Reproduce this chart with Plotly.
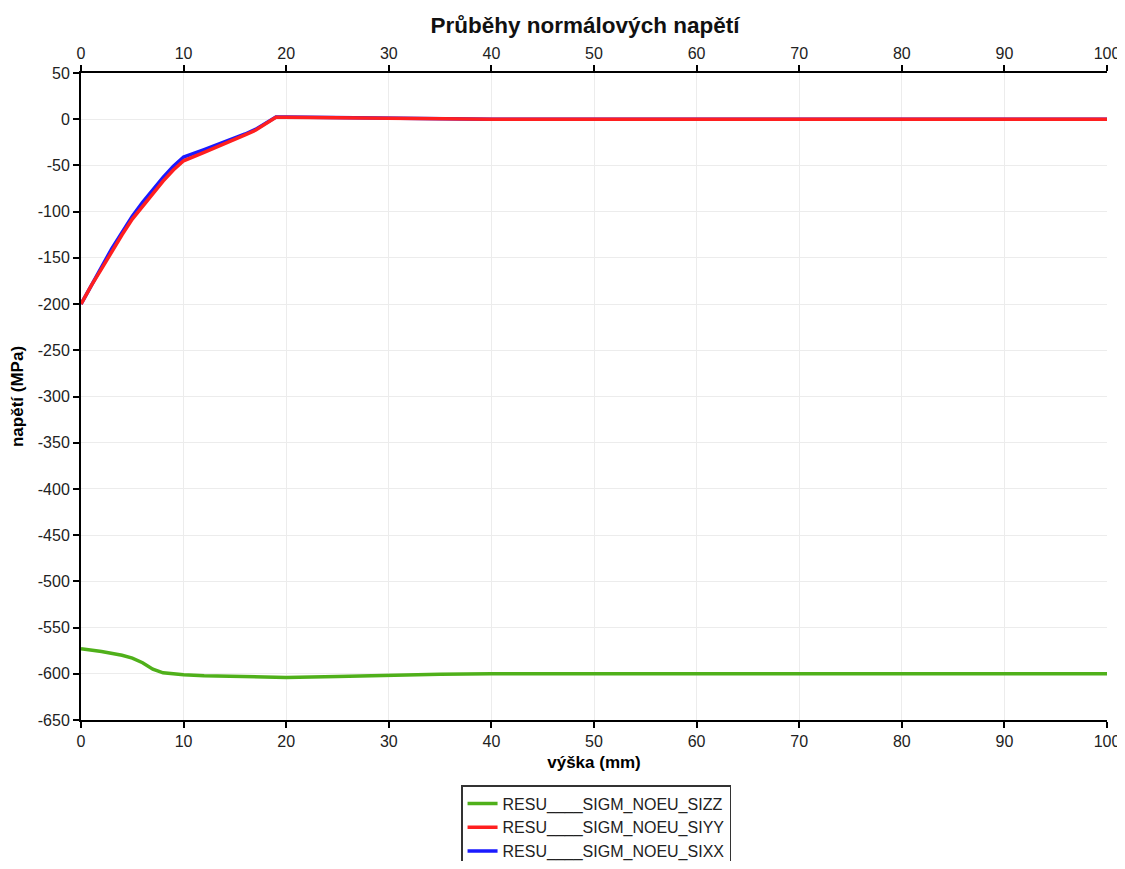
import plotly.graph_objects as go

# Data
x_zz = [0, 2, 4, 5, 6, 7, 8, 10, 12, 15, 18, 20, 25, 30, 35, 40, 50, 60, 70, 80, 90, 100]
sizz = [-573, -576, -580, -583, -588, -595, -599, -601, -602, -603, -604, -604, -603, -601.5, -600.5, -600, -600, -600, -600, -600, -600, -600]

x_xy = [0, 1, 2, 3, 4, 5, 6, 7, 8, 9, 10, 12, 14, 16, 17, 18, 19, 20, 25, 30, 35, 40, 50, 60, 70, 80, 90, 100]
siyy = [-200, -180, -162, -143, -125, -108, -94, -80, -67, -55, -45, -36, -27, -17, -12, -5, 2, 2, 1.5, 1, 0.5, 0, 0, 0, 0, 0, 0, 0]
sixx = [-200, -179, -160, -140, -122, -105, -90, -76, -63, -51, -41, -33, -25, -16, -11, -4, 2.5, 2.5, 1.8, 1, 0.5, 0, 0, 0, 0, 0, 0, 0]

names = ["RESU____SIGM_NOEU_SIZZ", "RESU____SIGM_NOEU_SIYY", "RESU____SIGM_NOEU_SIXX"]
colors = ["#4fb01a", "#ff1f1f", "#1a1aff"]

x_ticks = list(range(0, 101, 10))
y_ticks = list(range(-650, 51, 50))
y_ticktext = [str(v) for v in y_ticks]

fig = go.Figure()
fig.add_trace(go.Scatter(x=x_xy, y=sixx, mode="lines", name=names[2],
                         line=dict(color=colors[2], width=3.5), showlegend=False))
fig.add_trace(go.Scatter(x=x_xy, y=siyy, mode="lines", name=names[1],
                         line=dict(color=colors[1], width=3.5), showlegend=False))
fig.add_trace(go.Scatter(x=x_zz, y=sizz, mode="lines", name=names[0],
                         line=dict(color=colors[0], width=3.5), showlegend=False))
# legend entries in the reference order
for n, c in zip(names, colors):
    fig.add_trace(go.Scatter(x=[None], y=[None], mode="lines", name=n,
                             line=dict(color=c, width=3.5)))
# dummy trace for the top axis
fig.add_trace(go.Scatter(x=[0, 100], y=[None, None], xaxis="x2", mode="lines",
                         showlegend=False, hoverinfo="skip"))

font_family = "Liberation Sans, Arial, sans-serif"

# page body has an 8px default margin, so the figure is smaller
W, H = 1117, 853

fig.update_layout(
    width=W, height=H,
    paper_bgcolor="white", plot_bgcolor="white",
    margin=dict(l=73, r=18, t=65, b=141),
    font=dict(family=font_family, color="#222222"),
    title=dict(text="<b>Průběhy normálových napětí</b>", x=(585 - 8) / W, xanchor="center",
               y=1 - 17 / H, yanchor="middle", font=dict(size=22.5, color="#111111")),
    xaxis=dict(range=[0, 100], tickvals=x_ticks, ticks="outside", ticklen=6, tickwidth=2,
               tickcolor="black", showline=True, linecolor="black", linewidth=2,
               showgrid=True, gridcolor="#ececec", gridwidth=1, zeroline=False,
               automargin=False,
               tickfont=dict(size=16, color="#222222"),
               title=dict(text="<b>výška (mm)</b>", font=dict(size=17, color="black"), standoff=7)),
    xaxis2=dict(range=[0, 100], tickvals=x_ticks, overlaying="x", side="top", matches="x",
                ticks="outside", ticklen=6, tickwidth=2, tickcolor="black",
                showline=True, linecolor="black", linewidth=2, showgrid=False, zeroline=False,
                automargin=False,
                tickfont=dict(size=16, color="#222222")),
    yaxis=dict(range=[-650, 50], tickvals=y_ticks, ticktext=y_ticktext, ticks="outside",
               ticklen=6, tickwidth=2,
               tickcolor="black", showline=True, linecolor="black", linewidth=2,
               showgrid=True, gridcolor="#ececec", gridwidth=1, zeroline=False,
               automargin=False,
               tickfont=dict(size=16, color="#222222"),
               title=dict(text="<b>napětí (MPa)</b>", font=dict(size=17, color="black"), standoff=12)),
    legend=dict(x=0.502, xanchor="center", xref="paper",
                y=1 - 777 / H, yanchor="top", yref="container",
                bordercolor="#333333", borderwidth=1.5, bgcolor="white",
                font=dict(size=16, color="#222222"), tracegroupgap=0,
                itemwidth=30),
    showlegend=True,
)

fig.write_html("out.html")
